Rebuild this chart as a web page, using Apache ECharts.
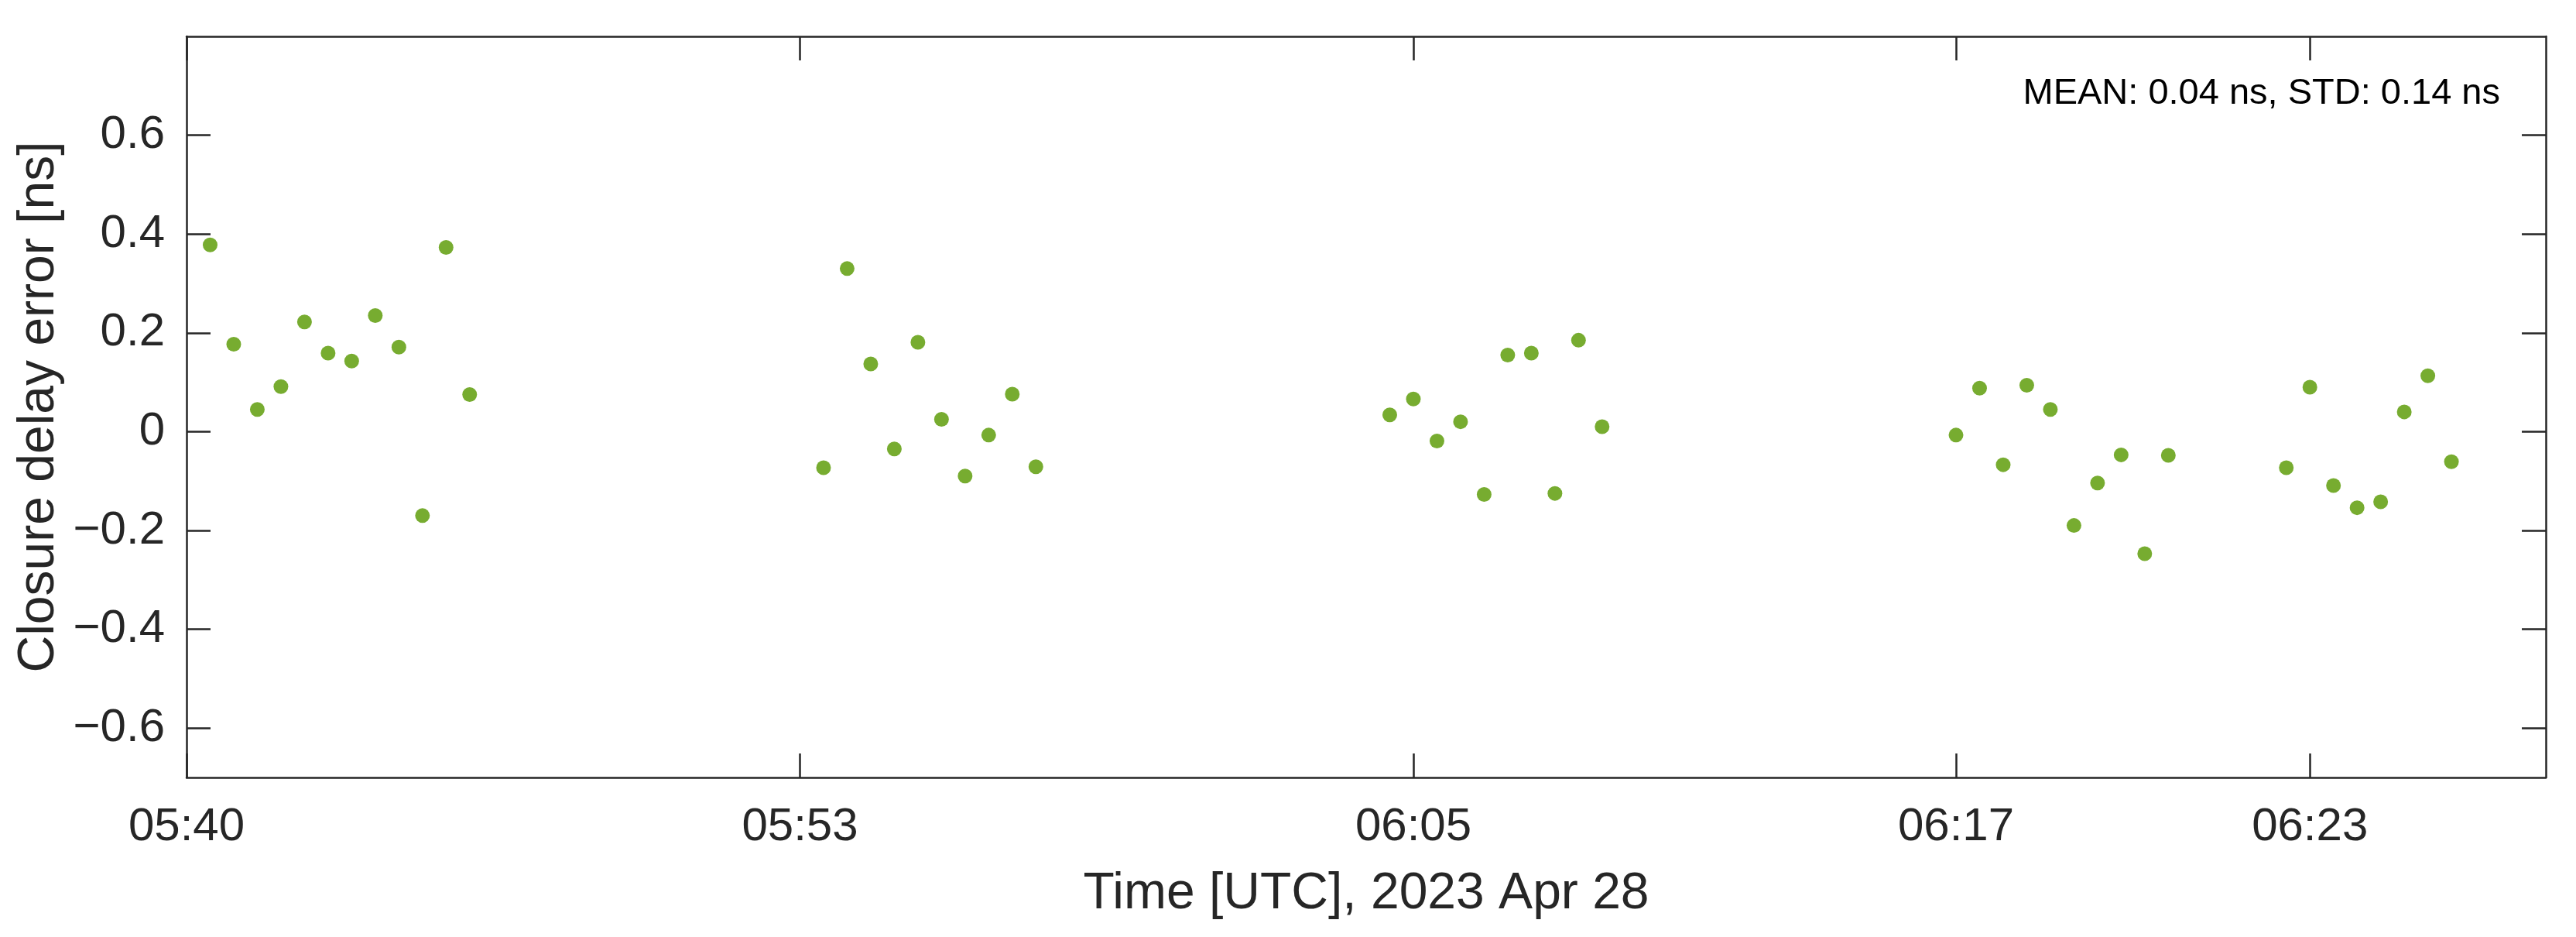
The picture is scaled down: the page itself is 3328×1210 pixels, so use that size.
<!DOCTYPE html>
<html>
<head>
<meta charset="utf-8">
<script src="https://cdn.jsdelivr.net/npm/echarts@6/dist/echarts.min.js"></script>
<style>
  html, body { margin: 0; padding: 0; background: #fff; }
  #chart { width: 3328px; height: 1210px; }
</style>
</head>
<body>
<div id="chart"></div>
<script>
// observation position along the x axis (one step per observation)
const obsX = [
  1, 2, 3, 4, 5, 6, 7, 8, 9, 10, 11, 12,
  27, 28, 29, 30, 31, 32, 33, 34, 35, 36,
  51, 52, 53, 54, 55, 56, 57, 58, 59, 60,
  75, 76, 77, 78, 79, 80, 81, 82, 83, 84,
  89, 90, 91, 92, 93, 94, 95, 96
];
// closure delay error [ns]
const delayNs = [
  0.378, 0.177, 0.045, 0.091, 0.222, 0.159, 0.143, 0.235, 0.171, -0.170, 0.373, 0.075,
  -0.073, 0.330, 0.137, -0.035, 0.181, 0.025, -0.090, -0.007, 0.076, -0.071,
  0.034, 0.066, -0.019, 0.020, -0.127, 0.155, 0.159, -0.125, 0.185, 0.010,
  -0.007, 0.088, -0.067, 0.094, 0.045, -0.190, -0.104, -0.047, -0.247, -0.048,
  -0.073, 0.090, -0.109, -0.154, -0.142, 0.040, 0.113, -0.061
];
const xTickPos = [0, 26, 52, 75, 90];
const xTickLabels = ["05:40", "05:53", "06:05", "06:17", "06:23"];
const yTicks = [-0.6, -0.4, -0.2, 0, 0.2, 0.4, 0.6];

const font = "'Liberation Sans', Arial, Helvetica, sans-serif";
const axisColor = "#262626";

const points = obsX.map((x, i) => [x, delayNs[i]]);

function fmtY(v) {
  if (Math.abs(v) < 1e-9) return "0";
  const s = Math.abs(v).toFixed(1);
  return v < 0 ? "\u2212" + s : s;
}

function boxLine() {
  return { show: true, onZero: false, lineStyle: { color: axisColor, width: 2.5 } };
}
function inTicks(vals) {
  return {
    show: true, inside: true, length: 31,
    customValues: vals,
    lineStyle: { color: axisColor, width: 2.5 }
  };
}

const chart = echarts.init(document.getElementById("chart"));
chart.setOption({
  backgroundColor: "#fff",
  animation: false,
  grid: { left: 241, top: 47, width: 3048, height: 957, containLabel: false },
  xAxis: [
    {
      type: "value",
      min: 0,
      max: 100,
      position: "bottom",
      name: "Time [UTC], 2023 Apr 28",
      nameLocation: "middle",
      nameGap: 118,
      nameTextStyle: { fontFamily: font, fontSize: 66, color: axisColor },
      axisLine: boxLine(),
      axisTick: inTicks(xTickPos),
      axisLabel: {
        show: true,
        customValues: xTickPos,
        margin: 34,
        fontFamily: font,
        fontSize: 60,
        color: axisColor,
        formatter: v => xTickLabels[xTickPos.indexOf(v)] || ""
      },
      splitLine: { show: false }
    },
    {
      type: "value",
      min: 0,
      max: 100,
      position: "top",
      axisLine: boxLine(),
      axisTick: inTicks(xTickPos),
      axisLabel: { show: false },
      splitLine: { show: false }
    }
  ],
  yAxis: [
    {
      type: "value",
      min: -0.7,
      max: 0.8,
      position: "left",
      name: "Closure delay error [ns]",
      nameLocation: "middle",
      nameRotate: 90,
      nameGap: 148,
      nameTextStyle: { fontFamily: font, fontSize: 66, color: axisColor },
      axisLine: boxLine(),
      axisTick: inTicks(yTicks),
      axisLabel: {
        show: true,
        customValues: yTicks,
        margin: 28,
        fontFamily: font,
        fontSize: 60,
        color: axisColor,
        formatter: fmtY
      },
      splitLine: { show: false }
    },
    {
      type: "value",
      min: -0.7,
      max: 0.8,
      position: "right",
      axisLine: boxLine(),
      axisTick: inTicks(yTicks),
      axisLabel: { show: false },
      splitLine: { show: false }
    }
  ],
  graphic: [
    {
      type: "text",
      right: 3328 - 3230,
      top: 98,
      style: {
        text: "MEAN: 0.04 ns, STD: 0.14 ns",
        fontFamily: font,
        fontSize: 47,
        fill: "#000"
      }
    }
  ],
  series: [
    {
      type: "scatter",
      xAxisIndex: 0,
      yAxisIndex: 0,
      data: points,
      symbol: "circle",
      symbolSize: 19,
      itemStyle: { color: "#77AC30", opacity: 1 }
    }
  ]
});
</script>
</body>
</html>
